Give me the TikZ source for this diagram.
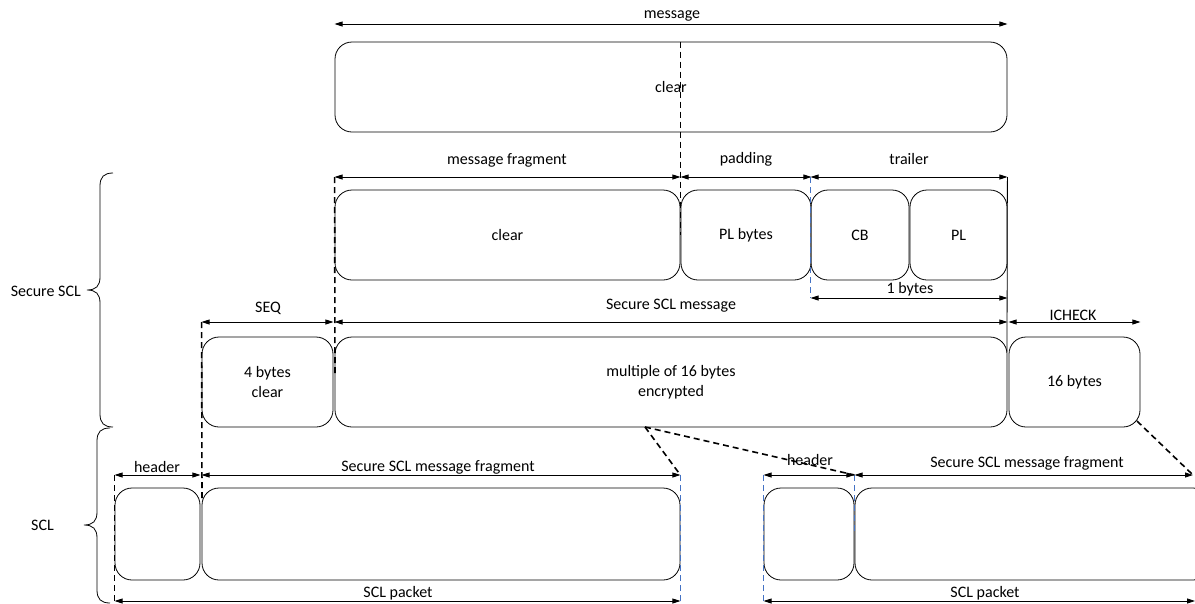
\documentclass[tikz,border=0pt]{standalone}
\usepackage{fontspec}
\setmainfont{Carlito}
\usetikzlibrary{arrows.meta,calc}
\definecolor{dblue}{HTML}{4472C4}
\newcommand\dgfont{\fontsize{16}{20}\selectfont}
\begin{document}
\begin{tikzpicture}[x=1pt,y=-1pt,
  box/.style={draw,rounded corners=17pt,line width=0.8pt,inner sep=0pt,align=center,font=\dgfont},
  dim/.style={{Triangle[length=8pt,width=5pt]}-{Triangle[length=8pt,width=5pt]},line width=0.8pt},
  lab/.style={font=\dgfont,inner sep=0pt},
  dsh/.style={line width=1.6pt,dash pattern=on 6pt off 4pt},
  bdsh/.style={dblue,line width=1.3pt,dash pattern=on 6pt off 4pt},
  solidl/.style={line width=0.8pt}]
\useasboundingbox (0,0) rectangle (1195,603);
% row y coordinates
\coordinate (yA) at (0,24);
\coordinate (yB) at (0,177);
\coordinate (yC) at (0,298);
\coordinate (yD) at (0,322);
\coordinate (yE) at (0,475);
\coordinate (yF) at (0,601);
% boxes
\node[box,minimum width=672pt,minimum height=90pt] (msg) at (671,87) {clear};
\node[box,minimum width=345pt,minimum height=90pt] (mf) at (507.5,235) {clear};
\node[box,minimum width=130pt,minimum height=90pt] (pad) at (746,235) {PL bytes};
\node[box,minimum width=98pt,minimum height=90pt] (cb) at (860,235) {CB};
\node[box,minimum width=97pt,minimum height=90pt] (pl) at (958.5,235) {PL};
\node[box,minimum width=131pt,minimum height=90pt] (seq) at (267.5,382) {4 bytes\\clear};
\node[box,minimum width=672pt,minimum height=90pt] (ssm) at (671,382) {multiple of 16 bytes\\encrypted};
\node[box,minimum width=131pt,minimum height=90pt] (ich) at (1074.5,382) {16 bytes};
\node[box,minimum width=85pt,minimum height=92pt] (h1) at (157.5,534) {};
\node[box,minimum width=478pt,minimum height=92pt] (f1) at (441,534) {};
\node[box,minimum width=90pt,minimum height=92pt] (h2) at (809,534) {};
\begin{scope}
\clip (0,0) rectangle (1195,603);
\node[box,minimum width=355pt,minimum height=92pt] (f2) at (1032.5,534) {};
\end{scope}
% labels
\node[lab] (tmsg) at (672,16) {message};
\node[lab] (tmf) at (507,160) {message fragment};
\node[lab] (tpad) at (746,159) {padding};
\node[lab] (ttr) at (909,159) {trailer};
\node[lab] (t1b) at (910,289) {1 bytes};
\node[lab] (tseq) at (268,308) {SEQ};
\node[lab] (tssm) at (671,306) {Secure SCL message};
\node[lab] (tich) at (1073,315) {ICHECK};
\node[lab] (th1) at (157,467) {header};
\node[lab] (tf1) at (438,467) {Secure SCL message fragment};
\node[lab] (th2) at (810,460) {header};
\node[lab] (tf2) at (1027,463) {Secure SCL message fragment};
\node[lab] (tp1) at (398,593) {SCL packet};
\node[lab] (tp2) at (985,593) {SCL packet};
\node[lab,anchor=east] (tsec) at (81,291) {Secure SCL};
\node[lab,anchor=east] (tscl) at (54,525) {SCL};
% free-end coordinates
\coordinate (rEnd) at (1193,475);
\coordinate (pEnd) at (1195,601);
\coordinate (sp) at (645,427);
\coordinate (icorner) at (1137,421);
\coordinate (dseqEnd) at (202,500);
\coordinate (vEnd) at (1007,352);
\coordinate (mfCut) at (335,375);
% dimension arrows
\draw[dim] (msg.west |- yA) -- (msg.east |- yA);
\draw[dim] (mf.west |- yB) -- (mf.east |- yB);
\draw[dim] (pad.west |- yB) -- (pad.east |- yB);
\draw[dim] (cb.west |- yB) -- (pl.east |- yB);
\draw[dim] (cb.west |- yC) -- (pl.east |- yC);
\draw[dim] (seq.west |- yD) -- (seq.east |- yD);
\draw[dim] (ssm.west |- yD) -- (ssm.east |- yD);
\draw[dim] (ich.west |- yD) -- (ich.east |- yD);
\draw[dim] (h1.west |- yE) -- (h1.east |- yE);
\draw[dim] (f1.west |- yE) -- (f1.east |- yE);
\draw[dim] (h2.west |- yE) -- (h2.east |- yE);
\draw[dim] (f2.west |- yE) -- (rEnd);
\draw[dim] (h1.west |- yF) -- (f1.east |- yF);
\draw[dim] (h2.west |- yF) -- (pEnd);
% vertical guide lines
\draw[dsh] (mf.east |- msg.north) -- (mf.east);
\draw[dsh] (mf.west |- yB) -- (mfCut);
\draw[dsh] (seq.west |- yD) -- (dseqEnd);
\draw[dsh] (h1.west |- yE) -- (h1.west |- yF);
\draw[bdsh] (f1.east |- yE) -- (f1.east |- yF);
\draw[bdsh] (cb.west |- yB) -- (cb.west |- yC);
\draw[bdsh] (h2.west |- yE) -- (h2.west |- yF);
\draw[bdsh] (h2.east |- yE) -- (h2.east);
\draw[solidl] (pl.east |- yB) -- (vEnd);
% diagonal dashed connectors
\draw[dsh] (sp) -- (f1.east |- yE);
\draw[dsh] (sp) -- (h2.east |- yE);
\draw[dsh] (icorner) -- (rEnd);
% braces
\draw[solidl] (113,173) .. controls (104,173) and (100,177) .. (100,186) -- (100,277)
  .. controls (100,286) and (96,290) .. (87,290) .. controls (96,290) and (100,294) .. (100,303)
  -- (100,414) .. controls (100,423) and (104,427) .. (113,427);
\draw[solidl] (110,428) .. controls (101,428) and (97,432) .. (97,441) -- (97,512)
  .. controls (97,521) and (93,525) .. (84,525) .. controls (93,525) and (97,529) .. (97,538)
  -- (97,590) .. controls (97,599) and (101,603) .. (110,603);
\end{tikzpicture}
\end{document}
